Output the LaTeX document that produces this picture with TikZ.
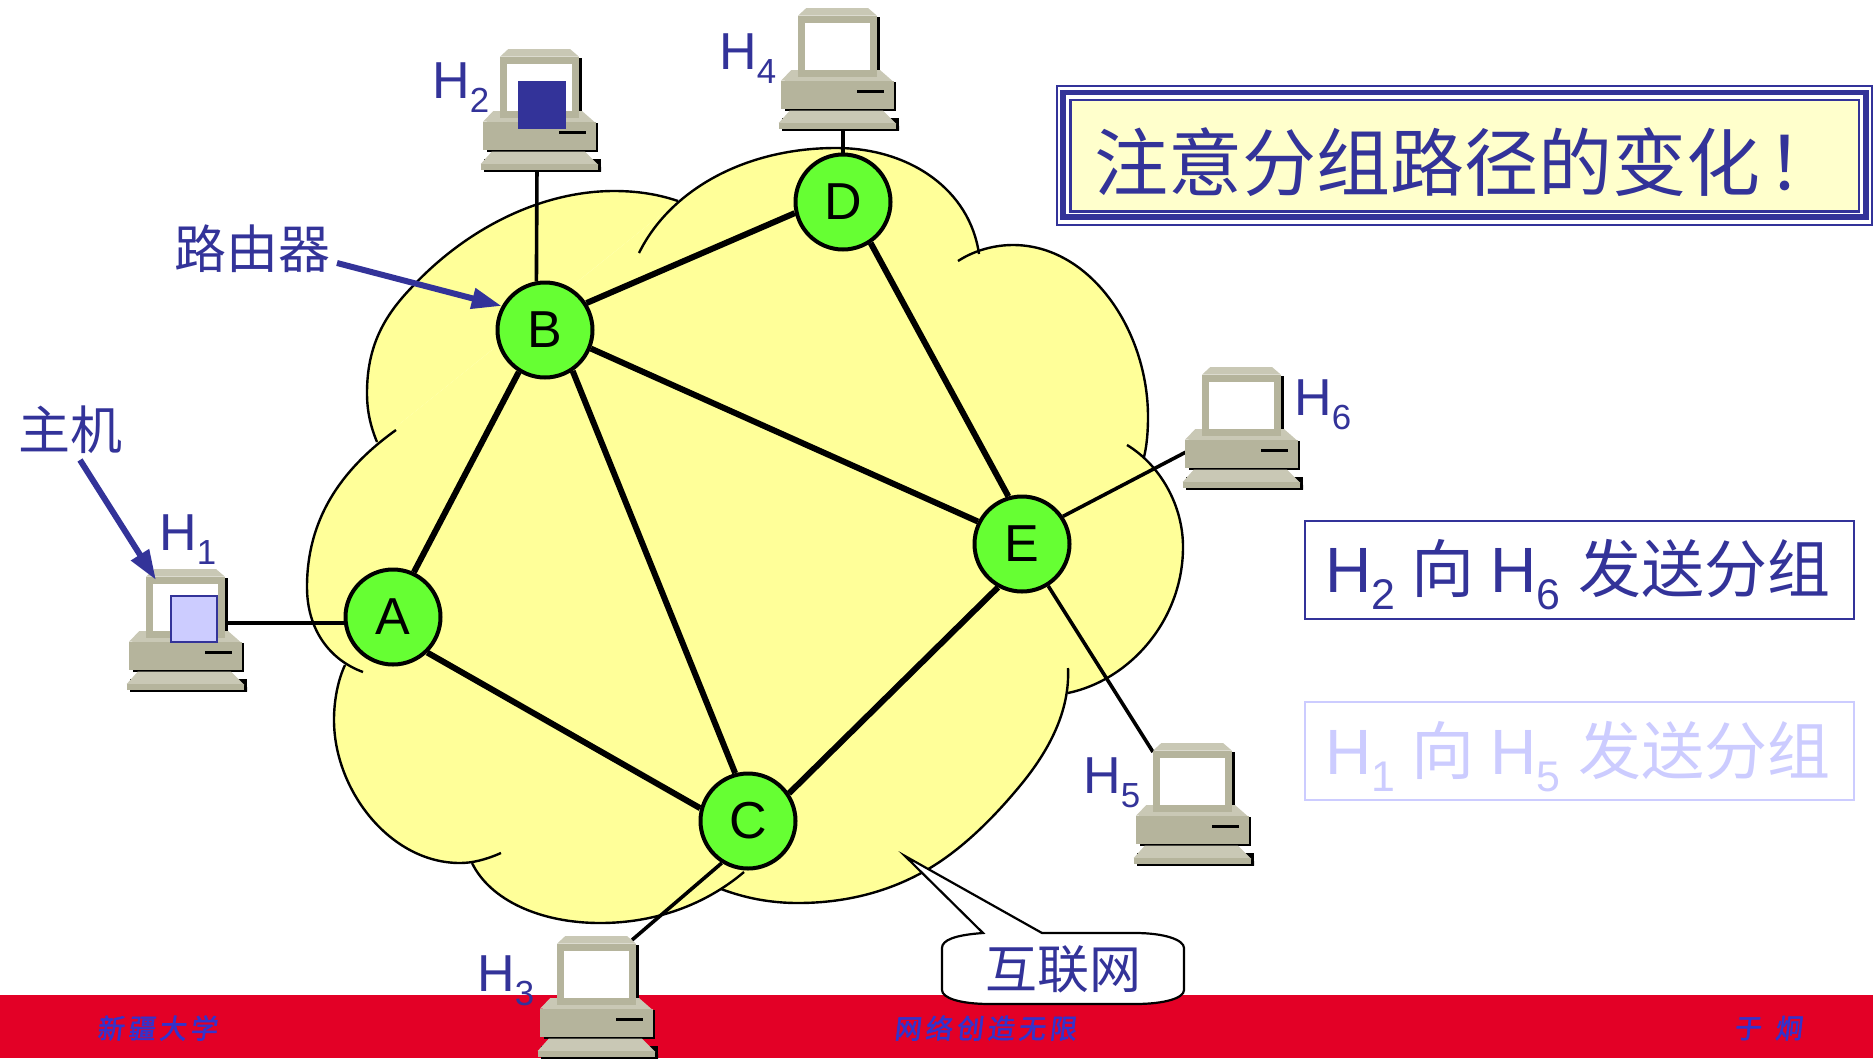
\documentclass[tikz,border=0pt]{standalone}
\usepackage{graphicx}
\usepackage{fontspec}
\setmainfont{Liberation Sans}
\newfontfamily\cjk{Noto Sans CJK SC}
\newfontfamily\footfont[LetterSpace=15,FakeSlant=0.12,FakeBold=2]{Noto Sans CJK SC}
\usetikzlibrary{arrows.meta}
\definecolor{inkblue}{HTML}{333399}
\definecolor{paleblue}{HTML}{CCCCFF}
\definecolor{footblue}{HTML}{3333CC}
\definecolor{barred}{HTML}{E30026}
\definecolor{cloudyellow}{HTML}{FFFF99}
\definecolor{titleyellow}{HTML}{FFFFCC}
\definecolor{routergreen}{HTML}{66FF33}
\definecolor{hostdark}{HTML}{B5B49C}
\definecolor{hostlight}{HTML}{C9C8B5}
\newcommand{\hname}[1]{H\raisebox{-0.28em}{\scalebox{0.67}{#1}}}
\newcommand{\cjkbig}[1]{{\cjk\fontsize{63}{63}\selectfont #1}}
\tikzset{
    router/.style={circle, draw, line width=4pt, fill=routergreen, minimum size=95pt, inner sep=0pt, font=\fontsize{52}{52}\selectfont},
    routerlink/.style={line width=6pt},
    hostlink/.style={line width=3.6pt},
    cloudline/.style={line width=2.4pt},
    hostlabel/.style={anchor=base west, inner sep=0pt, text=inkblue, font=\fontsize{52}{52}\selectfont},
    cjklabel/.style={inner sep=0pt, text=inkblue, font=\cjk\fontsize{52}{52}\selectfont},
    sendbox/.style={draw, line width=2pt, fill=white, minimum width=549pt, minimum height=98pt, inner sep=0pt},
    sendtext/.style={anchor=base west, inner sep=0pt, font=\fontsize{64}{64}\selectfont},
    bluearrow/.style={draw=inkblue, line width=6pt, -{Triangle[length=30pt,width=20pt]}},
    foottext/.style={inner sep=0pt, text=footblue, font=\footfont\fontsize{27}{27}\selectfont},
    packet/.style={minimum size=46pt, inner sep=0pt, line width=2pt, draw=inkblue},
    host/.pic={
        \fill[black] (79,9) rectangle (82,62);
        \fill[black] (-13,90) rectangle (97.7,102.7);
        \fill[black] (90,74) rectangle (97.7,102.7);
        \fill[black] (-16,110) rectangle (101,122.7);
        \fill[black] (90,116) -- (98.3,116) -- (101,118) -- (101,122.7) -- (90,122.7) -- cycle;
        \fill[hostlight] (0,7.7) -- (8.3,0) -- (70,0) -- (79,7.7) -- cycle;
        \fill[hostlight] (-17,72.7) -- (-6.7,62) -- (82,62) -- (95.7,74) -- cycle;
        \fill[hostdark] (-17,72.7) rectangle (95.7,101);
        \fill[hostdark] (0,7.7) rectangle (79,68.7);
        \fill[white] (7,14.7) rectangle (72,62);
        \fill[black] (59,82.3) rectangle (86,84.7);
        \fill[hostlight] (-19.3,115) -- (-8.3,102.7) -- (85,102.7) -- (98.3,116) -- cycle;
        \fill[hostdark] (-19.3,115) rectangle (98.3,120.7);
    },
}
% outline of the cloud, one lobe at a time
\def\lobeA{(377,442) .. controls (370,425) and (367,410) .. (367,393) .. controls (367,345) and (385,315) .. (412,287) .. controls (470,225) and (545,191) .. (614,191) .. controls (640,191) and (660,195) .. (678,201)}
\def\lobeB{(639,253) .. controls (670,190) and (745,148) .. (836,148) .. controls (910,148) and (970,190) .. (979,254)}
\def\lobeC{(958,261) .. controls (975,250) and (995,245) .. (1013,245) .. controls (1090,245) and (1148,330) .. (1148,417) .. controls (1148,430) and (1147,445) .. (1144,457)}
\def\lobeD{(1127,445) .. controls (1160,465) and (1183,505) .. (1183,547) .. controls (1183,620) and (1130,680) .. (1068,693)}
\def\lobeE{(1068,668) .. controls (1070,710) and (1050,750) .. (1019,787) .. controls (990,822) and (960,850) .. (930,868) .. controls (890,892) and (845,903) .. (798,903) .. controls (770,903) and (745,898) .. (721,889)}
\def\lobeF{(744,872) .. controls (705,905) and (655,923) .. (600,923) .. controls (540,923) and (490,900) .. (472,863)}
\def\lobeG{(501,853) .. controls (485,860) and (472,863) .. (460,863) .. controls (390,863) and (334,790) .. (334,720) .. controls (334,700) and (338,680) .. (345,665)}
\def\lobeH{(363,672) .. controls (330,660) and (307,630) .. (307,587) .. controls (307,520) and (340,470) .. (396,430)}
\begin{document}
\begin{tikzpicture}[x=1pt, y=-1pt]
    \useasboundingbox (0,0) rectangle (1873,1058);
    \fill[barred] (0,995) rectangle (1873,1058);

    \fill[cloudyellow] \lobeA; \fill[cloudyellow] \lobeB; \fill[cloudyellow] \lobeC; \fill[cloudyellow] \lobeD;
    \fill[cloudyellow] \lobeE; \fill[cloudyellow] \lobeF; \fill[cloudyellow] \lobeG; \fill[cloudyellow] \lobeH;
    \fill[cloudyellow] (377,442) -- (678,201) -- (979,254) -- (1144,457) -- (1068,693) -- (721,889) -- (472,863) -- (345,665) -- cycle;
    \draw[cloudline] \lobeA; \draw[cloudline] \lobeB; \draw[cloudline] \lobeC; \draw[cloudline] \lobeD;
    \draw[cloudline] \lobeE; \draw[cloudline] \lobeF; \draw[cloudline] \lobeG; \draw[cloudline] \lobeH;

    \node[router] at (393, 617) (a) {A};
    \node[router] at (545, 330) (b) {B};
    \node[router] at (748, 821) (c) {C};
    \node[router] at (843, 202) (d) {D};
    \node[router] at (1022, 544) (e) {E};

    \coordinate (h1) at (225, 623);
    \coordinate (h2) at (537, 165);
    \coordinate (h3) at (632, 940);
    \coordinate (h4) at (843, 125);
    \coordinate (h5) at (1153, 752);
    \coordinate (h6) at (1186, 452);

    \draw[routerlink] (b.238) -- (a.65);
    \draw[routerlink] (b.-56) -- (c.105);
    \draw[routerlink] (b.33) -- (d.193);
    \draw[routerlink] (b.-22) -- (e.153);
    \draw[routerlink] (d.-56) -- (e.106);
    \draw[routerlink] (e.241) -- (c.34);
    \draw[routerlink] (a.-46) -- (c.165);
    \draw[hostlink] (h1) -- (a.187);
    \draw[hostlink] (h2) -- (b.100);
    \draw[hostlink] (h3) -- (c.238);
    \draw[hostlink] (h4) -- (d);
    \draw[hostlink] (h5) -- (e.-58);
    \draw[hostlink] (h6) -- (e.34);

    \pic at (146, 569) {host};
    \pic at (500, 49) {host};
    \pic at (557, 936) {host};
    \pic at (798, 8) {host};
    \pic at (1153, 743) {host};
    \pic at (1202, 367) {host};
    \node[packet, fill=paleblue] at (194, 619) (pkt1) {};
    \node[packet, fill=inkblue] at (542, 105) (pkt2) {};

    \node[hostlabel] at (159, 550) (l1) {\hname{1}};
    \node[hostlabel] at (432, 98) (l2) {\hname{2}};
    \node[hostlabel] at (477, 991) (l3) {\hname{3}};
    \node[hostlabel] at (719, 69) (l4) {\hname{4}};
    \node[hostlabel] at (1083, 793) (l5) {\hname{5}};
    \node[hostlabel] at (1294, 415) (l6) {\hname{6}};

    \node[cjklabel] at (252, 249) (routerlabel) {路由器};
    \node[cjklabel] at (70, 430) (hostname) {主机};
    \coordinate (routerfrom) at (337, 263);
    \coordinate (hostfrom) at (80, 460);
    \coordinate (hosttip) at (156, 580);
    \draw[bluearrow] (routerfrom) -- (b.151);
    \draw[bluearrow] (hostfrom) -- (hosttip);

    % the speech bubble
    \filldraw[fill=white, line width=2.2pt] (983,933) -- (905,856) -- (1042,933) -- (1135,933) .. controls (1165,933) and (1184,940) .. (1184,948) -- (1184,990) .. controls (1184,998) and (1165,1004) .. (1135,1004) -- (990,1004) .. controls (960,1004) and (942,998) .. (942,990) -- (942,948) .. controls (942,940) and (955,935) .. (983,933) -- cycle;
    \node[cjklabel] at (1063, 969) (netlabel) {互联网};

    % title frame
    \draw[inkblue, line width=2pt] (1057,86) rectangle (1872,225);
    \draw[inkblue, line width=5.5pt] (1063,92.5) rectangle (1866,217);
    \draw[inkblue, line width=2.5pt, fill=titleyellow] (1070.5,100) rectangle (1859,211.5);
    \node[anchor=base west, inner sep=0pt, text=inkblue, font=\cjk\fontsize{74}{74}\selectfont] at (1094, 190) (title) {注意分组路径的变化\hspace{6pt}！};

    \node[sendbox, draw=inkblue] at (1579.5, 569.5) (send1) {};
    \node[sendbox, draw=paleblue] at (1579.5, 751) (send2) {};
    \node[sendtext, text=inkblue] at (1325, 592) (send1text) {\hname{2}\hspace{16pt}\cjkbig{向}\hspace{16pt}\hname{6}\hspace{18pt}\cjkbig{发送分组}};
    \node[sendtext, text=paleblue] at (1325, 774) (send2text) {\hname{1}\hspace{16pt}\cjkbig{向}\hspace{16pt}\hname{5}\hspace{18pt}\cjkbig{发送分组}};

    \node[foottext] at (157, 1028) (footleft) {新疆大学};
    \node[foottext] at (985, 1028) (footmid) {网络创造无限};
    \node[foottext] at (1768, 1028) (footright) {于\hspace{14pt}炯};
\end{tikzpicture}
\end{document}
